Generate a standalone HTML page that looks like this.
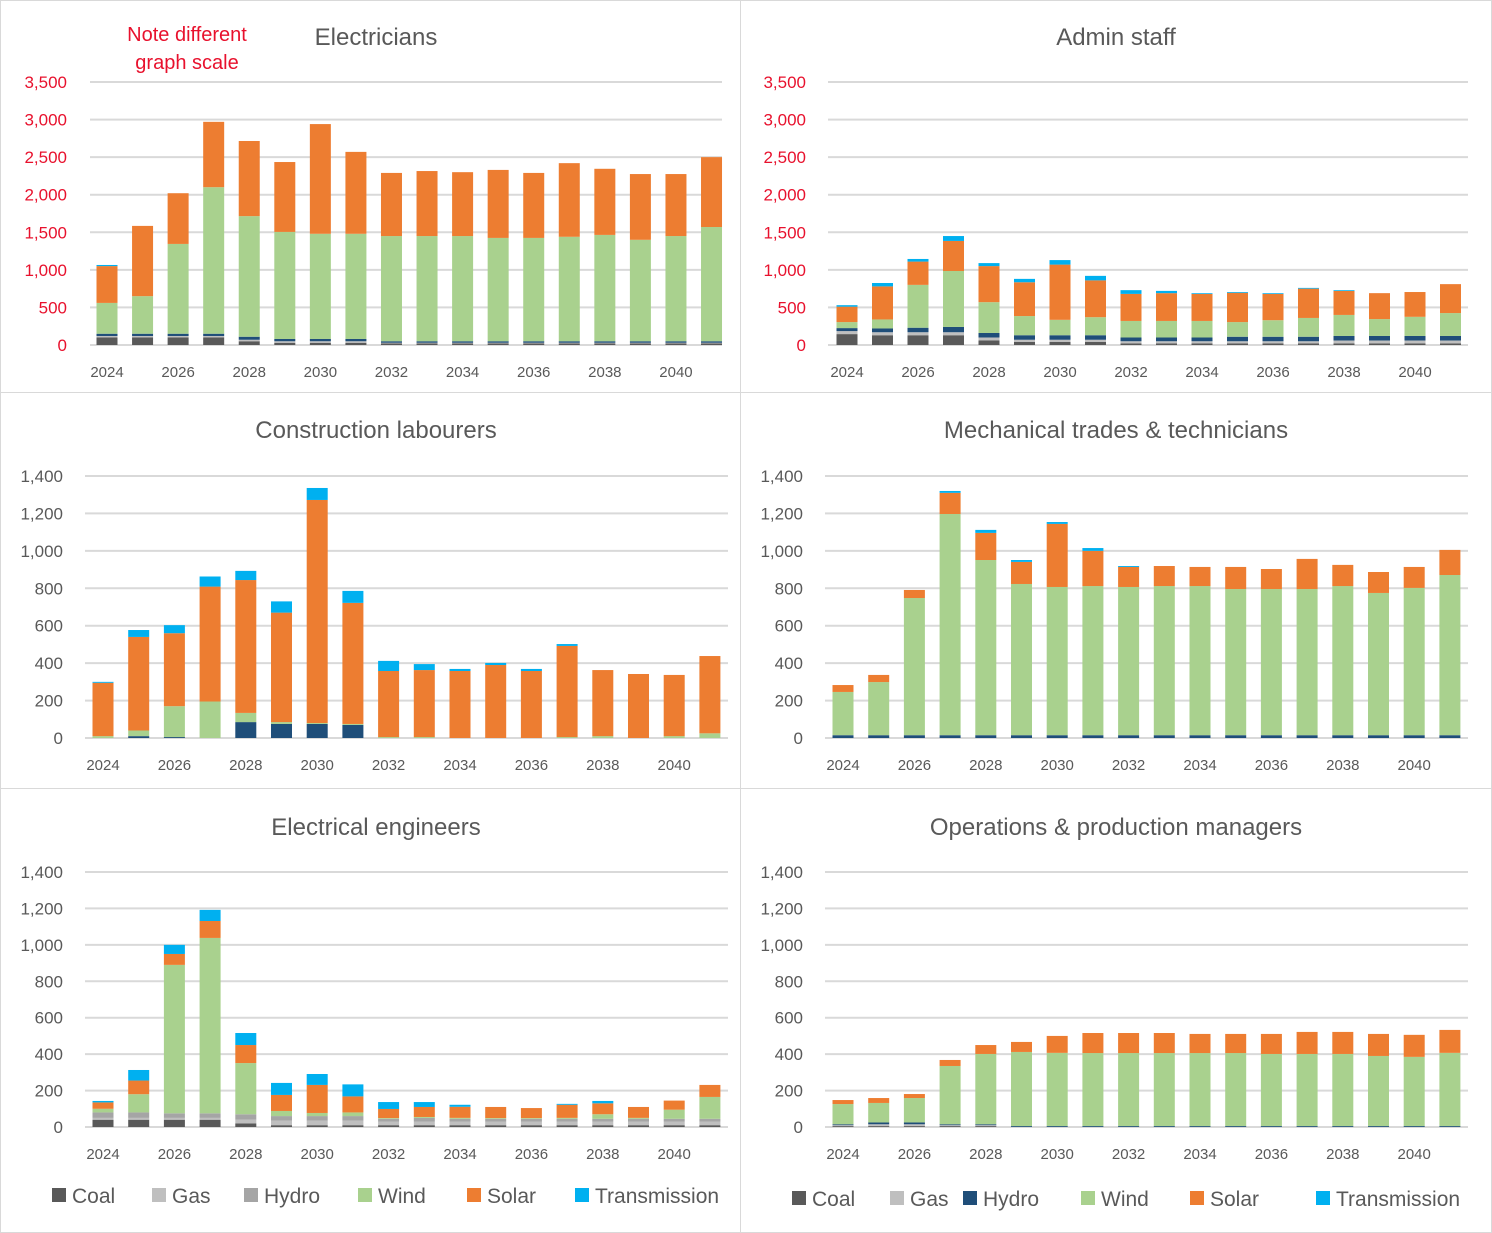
<!DOCTYPE html>
<html><head><meta charset="utf-8"><style>
html,body{margin:0;padding:0;background:#fff}
svg{display:block;font-family:"Liberation Sans",sans-serif}
</style></head><body>
<svg id="c" width="1492" height="1233" viewBox="0 0 1492 1233" xmlns="http://www.w3.org/2000/svg">
<rect x="0.5" y="0.5" width="1491" height="1232" fill="#fff" stroke="#d9d9d9"/>
<line x1="740.5" y1="0" x2="740.5" y2="1233" stroke="#d9d9d9"/>
<line x1="0" y1="392.5" x2="1492" y2="392.5" stroke="#d9d9d9"/>
<line x1="0" y1="788.5" x2="1492" y2="788.5" stroke="#d9d9d9"/>
<text x="187" y="41" text-anchor="middle" font-size="20" fill="#e8112d">Note different</text>
<text x="187" y="69" text-anchor="middle" font-size="20" fill="#e8112d">graph scale</text>
</svg>
<script>
const years = [2024,2025,2026,2027,2028,2029,2030,2031,2032,2033,2034,2035,2036,2037,2038,2039,2040,2041];
const seriesNames = ["Coal","Gas","Hydro","Wind","Solar","Transmission"];

const electriciansCoal = [100,100,100,100,50,30,30,30,20,20,20,20,20,20,20,20,20,20];
const electriciansGas = [20,20,20,20,20,20,20,20,10,10,10,10,10,10,10,10,10,10];
const electriciansHydro = [30,30,30,30,40,30,30,30,20,20,20,20,20,20,20,20,20,20];
const electriciansWind = [410,500,1195,1950,1605,1425,1400,1400,1400,1400,1400,1375,1375,1390,1415,1350,1400,1520];
const electriciansSolar = [490,935,675,870,1000,930,1460,1090,840,865,850,905,865,980,880,875,825,930];
const electriciansTrans = [15,0,0,0,0,0,0,0,0,0,0,0,0,0,0,0,0,0];

const adminCoal = [145,130,130,130,60,40,40,40,20,20,20,20,20,20,20,20,20,20];
const adminGas = [40,40,40,40,40,30,30,30,30,30,30,30,30,30,40,40,40,40];
const adminHydro = [40,50,60,70,60,60,60,60,50,50,50,60,60,60,60,60,60,60];
const adminWind = [80,120,570,745,410,255,205,240,220,220,220,195,220,250,280,225,255,305];
const adminSolar = [205,440,310,400,480,450,735,490,360,370,360,390,350,390,320,345,330,385];
const adminTrans = [20,45,35,65,40,45,60,60,50,30,10,10,10,10,10,0,0,0];

const labourersCoal = [0,0,0,0,0,0,0,0,0,0,0,0,0,0,0,0,0,0];
const labourersGas = [0,0,0,0,0,0,0,0,0,0,0,0,0,0,0,0,0,0];
const labourersHydro = [0,10,5,0,85,75,75,70,0,0,0,0,0,0,0,0,0,0];
const labourersWind = [10,30,165,195,49,10,5,5,5,5,0,0,0,5,10,0,10,25];
const labourersSolar = [285,500,390,614,710,585,1192,647,353,358,358,390,358,487,353,342,327,413];
const labourersTrans = [5,37,43,54,49,60,64,64,54,32,11,11,11,10,0,0,0,0];

const mechCoal = [0,0,0,0,0,0,0,0,0,0,0,0,0,0,0,0,0,0];
const mechGas = [0,0,0,0,0,0,0,0,0,0,0,0,0,0,0,0,0,0];
const mechHydro = [15,15,15,15,15,15,15,15,15,15,15,15,15,15,15,15,15,15];
const mechWind = [231,284,733,1182,936,808,792,797,792,797,797,781,781,781,797,760,787,856];
const mechSolar = [37,38,43,113,145,118,337,188,107,107,102,118,107,161,113,112,112,134];
const mechTrans = [0,0,0,10,16,10,10,15,5,0,0,0,0,0,0,0,0,0];

const engCoal = [40,40,40,40,20,10,10,10,10,10,10,10,10,10,10,10,10,10];
const engGas = [10,10,10,10,20,25,25,25,20,20,20,20,20,20,20,20,20,20];
const engHydro = [30,30,25,25,30,25,25,25,15,20,15,15,15,15,15,15,15,15];
const engWind = [20,100,815,963,281,28,17,20,4,5,5,4,4,5,25,5,50,120];
const engSolar = [35,75,60,93,99,88,154,88,50,55,61,61,55,72,60,60,50,66];
const engTrans = [8,58,50,61,66,66,60,66,38,27,11,0,0,5,13,0,0,0];

const opsCoal = [5,5,5,5,5,0,0,0,0,0,0,0,0,0,0,0,0,0];
const opsGas = [5,10,10,5,5,0,0,0,0,0,0,0,0,0,0,0,0,0];
const opsHydro = [5,10,10,5,5,5,5,5,5,5,5,5,5,5,5,5,5,5];
const opsWind = [111,107,134,320,386,407,402,401,401,401,401,401,396,396,396,385,380,402];
const opsSolar = [22,27,22,33,49,55,93,110,110,110,105,105,110,121,121,121,121,126];
const opsTrans = [0,0,0,0,0,0,0,0,0,0,0,0,0,0,0,0,0,0];

const ticksBig = [0,500,1000,1500,2000,2500,3000,3500];
const ticksSmall = [0,200,400,600,800,1000,1200,1400];
const yearLabels = [2024,2026,2028,2030,2032,2034,2036,2038,2040];

const NS = "http://www.w3.org/2000/svg";
const svg = document.getElementById('c');
function mk(tag, attrs, parent) {
  const e = document.createElementNS(NS, tag);
  for (const k in attrs) e.setAttribute(k, attrs[k]);
  (parent || svg).appendChild(e);
  return e;
}
const navy = "#1f4e79";
const baseColors = ["#595959","#bfbfbf",navy,"#a9d18e","#ed7d31","#00b0f0"];
const engColors = ["#595959","#bfbfbf","#a5a5a5","#a9d18e","#ed7d31","#00b0f0"];

const panels = [
  {id:"electricians", title:"Electricians", tx:376, ty:45, x0:107, step:35.56, gl:90, gr:722, lx:67, yz:345, yt:82, max:3500, ticks:ticksBig, red:true, yl:377, colors:baseColors,
   s:[electriciansCoal,electriciansGas,electriciansHydro,electriciansWind,electriciansSolar,electriciansTrans]},
  {id:"admin-staff", title:"Admin staff", tx:1116, ty:45, x0:847, step:35.5, gl:828, gr:1468, lx:806, yz:345, yt:82, max:3500, ticks:ticksBig, red:true, yl:377, colors:baseColors,
   s:[adminCoal,adminGas,adminHydro,adminWind,adminSolar,adminTrans]},
  {id:"construction-labourers", title:"Construction labourers", tx:376, ty:438, x0:103, step:35.7, gl:85, gr:728, lx:63, yz:738, yt:476, max:1400, ticks:ticksSmall, red:false, yl:770, colors:baseColors,
   s:[labourersCoal,labourersGas,labourersHydro,labourersWind,labourersSolar,labourersTrans]},
  {id:"mechanical-trades", title:"Mechanical trades & technicians", tx:1116, ty:438, x0:843, step:35.7, gl:825, gr:1468, lx:803, yz:738, yt:476, max:1400, ticks:ticksSmall, red:false, yl:770, colors:baseColors,
   s:[mechCoal,mechGas,mechHydro,mechWind,mechSolar,mechTrans]},
  {id:"electrical-engineers", title:"Electrical engineers", tx:376, ty:835, x0:103, step:35.7, gl:85, gr:728, lx:63, yz:1127, yt:872, max:1400, ticks:ticksSmall, red:false, yl:1159, colors:engColors,
   s:[engCoal,engGas,engHydro,engWind,engSolar,engTrans]},
  {id:"operations-managers", title:"Operations & production managers", tx:1116, ty:835, x0:843, step:35.7, gl:825, gr:1468, lx:803, yz:1127, yt:872, max:1400, ticks:ticksSmall, red:false, yl:1159, colors:baseColors,
   s:[opsCoal,opsGas,opsHydro,opsWind,opsSolar,opsTrans]}
];

panels.forEach(p => {
  const g = mk('g', {});
  
  
  const yScale = v => p.yz - v * (p.yz - p.yt) / p.max;
  const xScale = i => p.x0 + i * p.step;
  const t = mk('text', {x:p.tx, y:p.ty, 'text-anchor':'middle', 'font-size':24, fill:'#595959'}, g);
  t.textContent = p.title;
  
  
  p.ticks.forEach(v => {
    const y = yScale(v);
    const ln = mk('line', {x1:p.gl, x2:p.gr, y1:y, y2:y, stroke:'#d9d9d9', 'stroke-width':2}, g);
    
    
    const lb = mk('text', {x:p.lx, y:y+6, 'text-anchor':'end', 'font-size':17, fill:p.red ? '#e8112d' : '#595959'}, g);
    lb.textContent = v.toLocaleString('en-US');
    
    
  });
  yearLabels.forEach(yr => {
    const i = years.indexOf(yr);
    const lb = mk('text', {x:xScale(i), y:p.yl, 'text-anchor':'middle', 'font-size':15, fill:'#595959'}, g);
    lb.textContent = yr;
    
    
  });
  const bw = 21;
  years.forEach((yr, i) => {
    let acc = 0;
    p.s.forEach((arr, k) => {
      const v = arr[i];
      if (!v) return;
      const yTopV = yScale(acc + v), yBot = yScale(acc);
      acc += v;
      const r = mk('rect', {x:xScale(i)-bw/2, y:yTopV, width:bw, height:yBot-yTopV, fill:p.colors[k]}, g);
      
      
    });
  });
});

function legend(xs, y, colors, prefix) {
  seriesNames.forEach((n, k) => {
    const r = mk('rect', {x:xs[k], y:y-7, width:14, height:14, fill:colors[k]});
    
    
    const t = mk('text', {x:xs[k]+20, y:y+8, 'font-size':21, fill:'#595959'});
    t.textContent = n;
    
    
  });
}
legend([52,152,244,358,467,575], 1195, engColors, 'left');
legend([792,890,963,1081,1190,1316], 1198, baseColors, 'right');
</script>
</body></html>
